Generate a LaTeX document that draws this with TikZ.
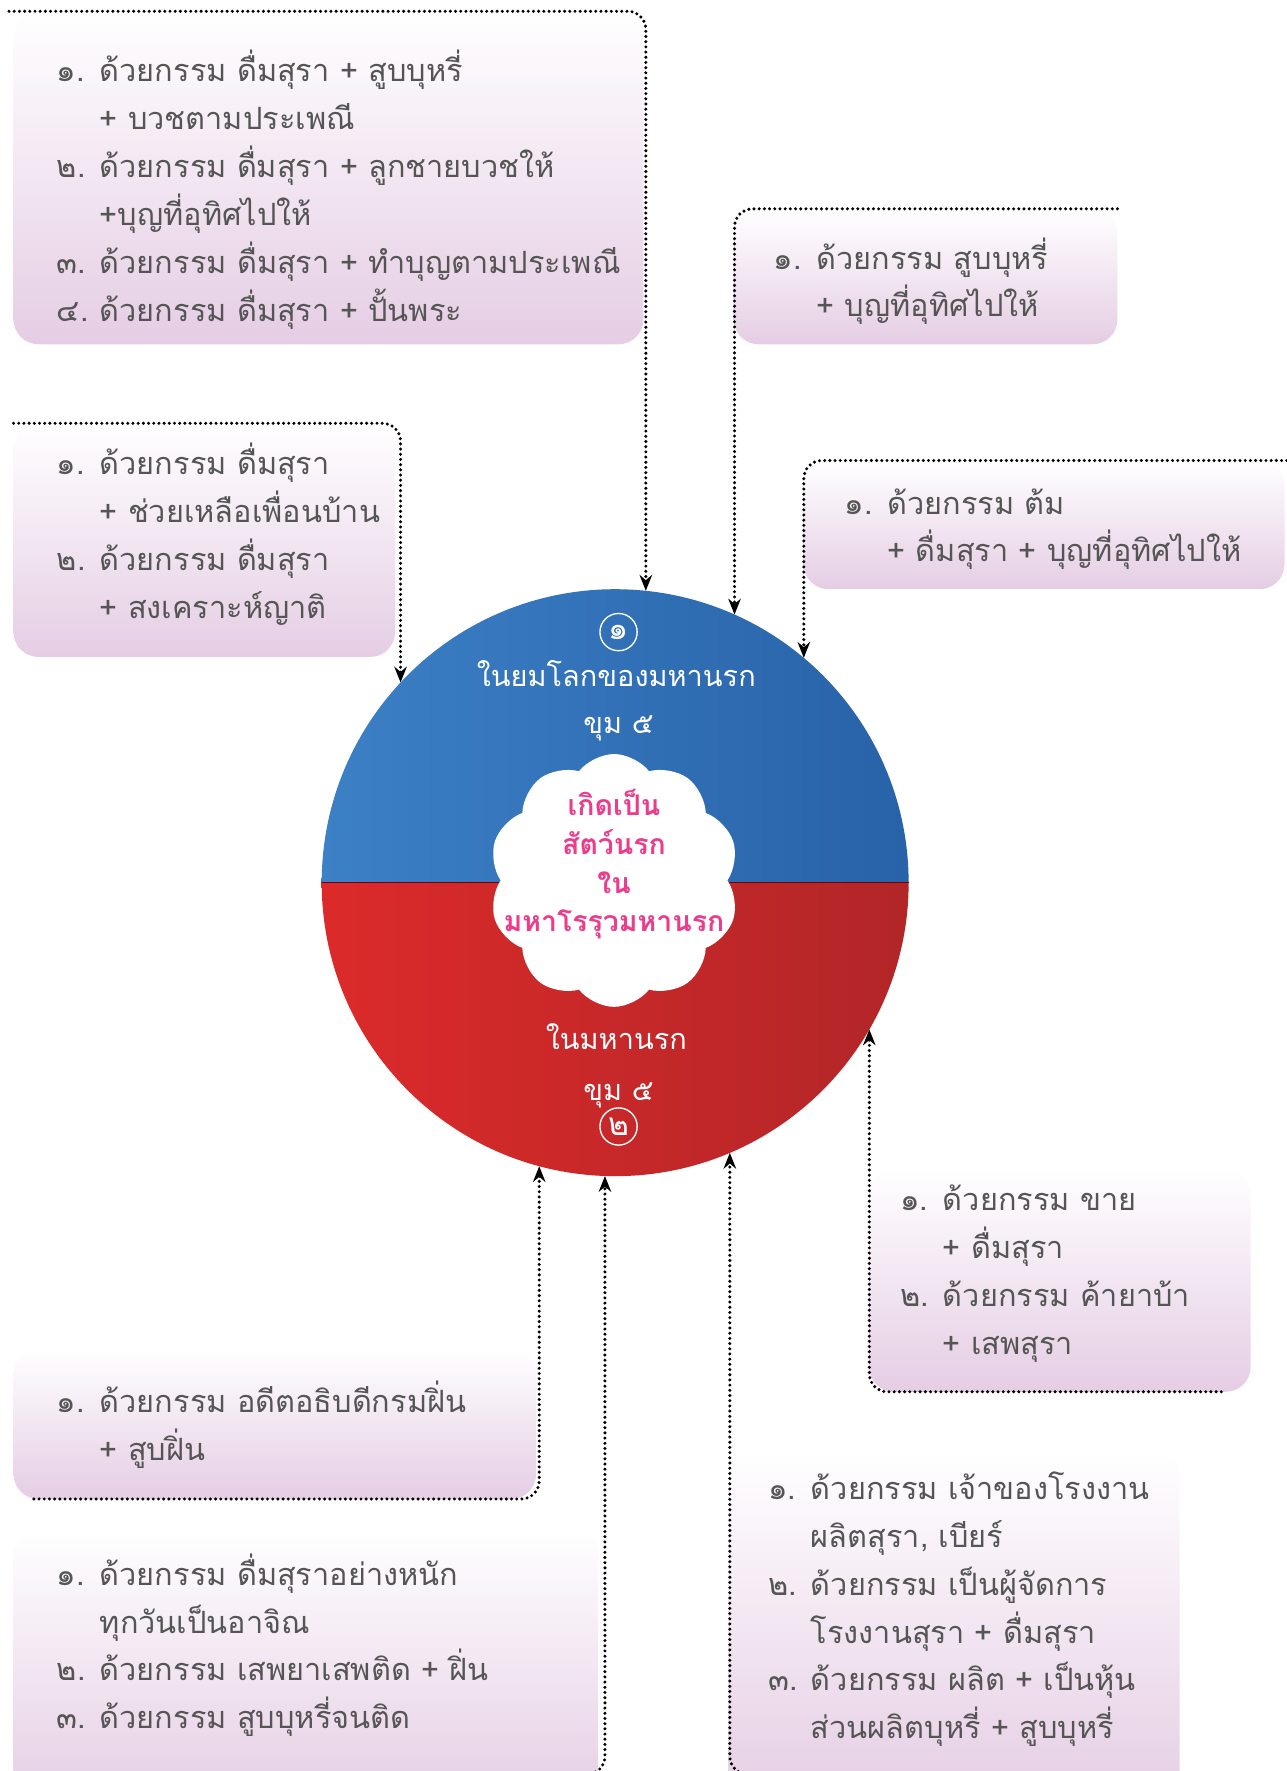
\documentclass[tikz,border=0pt]{standalone}
\usepackage{fontspec}
\newfontfamily\thaifont[Script=Thai]{Loma}
\usetikzlibrary{arrows.meta,shapes.symbols}
\definecolor{txtgray}{RGB}{85,85,85}
\definecolor{boxpink}{RGB}{229,205,228}
\definecolor{blueL}{RGB}{60,128,198}
\definecolor{blueR}{RGB}{40,98,168}
\definecolor{redL}{RGB}{220,42,42}
\definecolor{redR}{RGB}{178,38,40}
\definecolor{corepink}{RGB}{236,60,140}
\newcommand\numbox[1]{\rule{0pt}{15pt}\makebox[19pt][l]{#1}}
\newcommand\contbox{\rule{0pt}{15pt}\hspace*{19pt}}
\begin{document}
\begin{tikzpicture}[line cap=round,line join=round,>={Stealth[length=7pt,width=5.5pt]},x=0.5pt,y=0.5pt,
  karma/.style={anchor=north west,inner sep=0pt,align=left,text=txtgray,font=\thaifont\fontsize{13.6}{21.2}\selectfont},
  panel/.style={top color=white,bottom color=boxpink,rounded corners=11pt},
  link/.style={->,line width=1.5pt,dash pattern=on 0pt off 2.3pt,rounded corners=8pt},
  hlabel/.style={anchor=base,inner sep=0pt,text=white,font=\thaifont\fontsize{12.8}{18}\selectfont},
  ringno/.style={circle,draw=white,line width=0.6pt,inner sep=0pt,minimum size=16.5pt,text=white,font=\thaifont\fontsize{14}{14}\selectfont}]
\useasboundingbox (0,0) rectangle (1140,-1569);
\clip (0,0) rectangle (1140,-1569);
% panels
\shade[panel] (12,-10) rectangle (570,-305);
\shade[panel] (650,-185) rectangle (990,-305);
\shade[panel] (12,-375) rectangle (350,-582);
\shade[panel] (712,-408) rectangle (1138,-522);
\shade[panel] (770,-1035) rectangle (1108,-1233);
\shade[panel] (12,-1195) rectangle (475,-1328);
\shade[panel] (12,-1355) rectangle (530,-1600);
\shade[panel] (645,-1285) rectangle (1045,-1600);
% texts
\node[karma] (textA) at (50,-42) {\numbox{๑.}ด้วยกรรม ดื่มสุรา + สูบบุหรี่\\
  \contbox + บวชตามประเพณี\\
  \numbox{๒.}ด้วยกรรม ดื่มสุรา + ลูกชายบวชให้\\
  \contbox +บุญที่อุทิศไปให้\\
  \numbox{๓.}ด้วยกรรม ดื่มสุรา + ทำบุญตามประเพณี\\
  \numbox{๔.}ด้วยกรรม ดื่มสุรา + ปั้นพระ};
\node[karma] (textB) at (685,-208) {\numbox{๑.}ด้วยกรรม สูบบุหรี่\\
  \contbox + บุญที่อุทิศไปให้};
\node[karma] (textC) at (50,-390) {\numbox{๑.}ด้วยกรรม ดื่มสุรา\\
  \contbox + ช่วยเหลือเพื่อนบ้าน\\
  \numbox{๒.}ด้วยกรรม ดื่มสุรา\\
  \contbox + สงเคราะห์ญาติ};
\node[karma] (textD) at (748,-425) {\numbox{๑.}ด้วยกรรม ต้ม\\
  \contbox + ดื่มสุรา + บุญที่อุทิศไปให้};
\node[karma] (textE) at (797,-1042) {\numbox{๑.}ด้วยกรรม ขาย\\
  \contbox + ดื่มสุรา\\
  \numbox{๒.}ด้วยกรรม ค้ายาบ้า\\
  \contbox + เสพสุรา};
\node[karma] (textF) at (50,-1221) {\numbox{๑.}ด้วยกรรม อดีตอธิบดีกรมฝิ่น\\
  \contbox + สูบฝิ่น};
\node[karma] (textG) at (50,-1374) {\numbox{๑.}ด้วยกรรม ดื่มสุราอย่างหนัก\\
  \contbox ทุกวันเป็นอาจิณ\\
  \numbox{๒.}ด้วยกรรม เสพยาเสพติด + ฝิ่น\\
  \numbox{๓.}ด้วยกรรม สูบบุหรี่จนติด};
\node[karma] (textH) at (680,-1298) {\numbox{๑.}ด้วยกรรม เจ้าของโรงงาน\\
  \contbox ผลิตสุรา, เบียร์\\
  \numbox{๒.}ด้วยกรรม เป็นผู้จัดการ\\
  \contbox โรงงานสุรา + ดื่มสุรา\\
  \numbox{๓.}ด้วยกรรม ผลิต + เป็นหุ้น\\
  \contbox ส่วนผลิตบุหรี่ + สูบบุหรี่};
% the two hells
\node[circle,minimum size=260pt,inner sep=0pt,outer sep=0pt] (hell) at (545,-782) {};
\shade[left color=blueL,right color=blueR] (hell.west) arc[start angle=180,end angle=0,radius=130pt] -- cycle;
\shade[left color=redL,right color=redR] (hell.west) arc[start angle=180,end angle=360,radius=130pt] -- cycle;
\draw[line width=0.6pt,red!45!black] (hell.west) -- (hell.east);
\node[cloud,cloud puffs=10,cloud puff arc=105,aspect=1,fill=white,minimum width=111pt,minimum height=112pt,inner sep=0pt] (core) at (544,-780) {};
\node[anchor=north,inner sep=0pt,align=center,text=corepink,font=\thaifont\bfseries\fontsize{12.6}{17.2}\selectfont] (coretext) at (544,-690) {\rule{0pt}{16pt}เกิดเป็น\\ สัตว์นรก\\ ใน\\ มหาโรรุวมหานรก};
\node[ringno] (upno) at (548,-560) {๑};
\node[hlabel] (upname) at (546,-608) {ในยมโลกของมหานรก};
\node[hlabel] (uppit) at (548,-650) {ขุม ๕};
\node[hlabel] (lowname) at (546,-930) {ในมหานรก};
\node[hlabel] (lowpit) at (548,-975) {ขุม ๕};
\node[ringno] (lowno) at (548,-998) {๒};
% dotted links
\coordinate (startA) at (8,-10);
\coordinate (startB) at (990,-185);
\coordinate (startC) at (12,-375);
\coordinate (startD) at (1140,-408);
\coordinate (startE) at (1082,-1233);
\coordinate (startF) at (30,-1328);
\coordinate (startG) at (505,-1572);
\coordinate (startH) at (672,-1572);
\draw[link] (startA) -| (hell.84.5);
\draw[link] (startB) -| (hell.66.2);
\draw[link] (startC) -| (hell.137.9);
\draw[link] (startD) -| (hell.50);
\draw[link] (startE) -| (hell.-30.1);
\draw[link] (startF) -| (hell.-105.6);
\draw[link] (startG) -| (hell.-92.6);
\draw[link] (startH) -| (hell.-67.4);
\end{tikzpicture}
\end{document}
